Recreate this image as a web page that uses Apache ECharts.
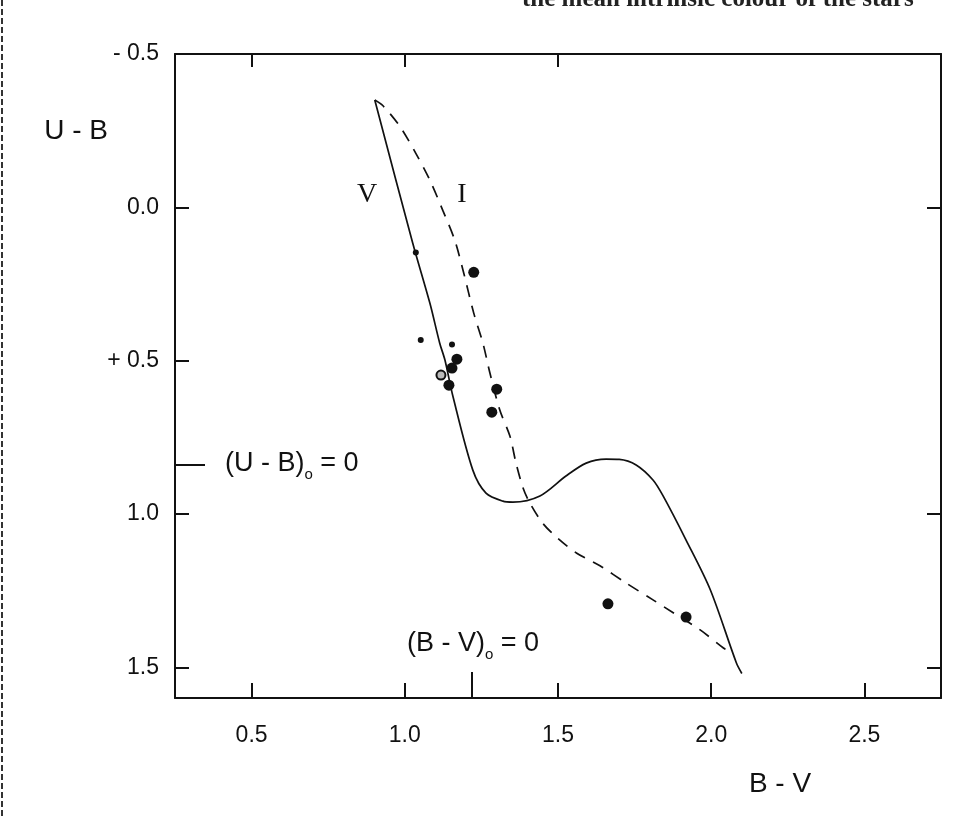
<html lang="en">
	<head>
		<meta charset="utf-8" />
		<title>U-B / B-V two-colour diagram</title>
		<style>
			html,
			body {
				margin: 0;
				padding: 0;
				background: #fff;
			}
		</style>
	</head>

	<body>
		<div id="main" style="width: 975px;height:819px;"></div>
	</body>
	<script src="https://cdn.jsdelivr.net/npm/echarts@6/dist/echarts.min.js"></script>
	<script type="text/javascript">
		// axis ticks and labels
		const xTicks = [0.5, 1.0, 1.5, 2.0, 2.5];
		const xTickLabels = ['0.5', '1.0', '1.5', '2.0', '2.5'];
		const topTicks = [0.5, 1.0, 1.5];
		const yTicks = [0.0, 0.5, 1.0, 1.5];
		const yLabelValues = [-0.5, 0.0, 0.5, 1.0, 1.5];
		const yTickLabels = ['- 0.5', '0.0', '+ 0.5', '1.0', '1.5'];
		const rightTicks = [0.0, 1.0, 1.5];
		// intrinsic colour markers (U-B)o = 0 and (B-V)o = 0
		const ubZero = [0.84];
		const bvZero = [1.22];

		// curve V (solid)
		const curveV = [
			[0.902, -0.35], [1.026, 0.117], [1.082, 0.313], [1.114, 0.443], [1.131, 0.498],
			[1.157, 0.616], [1.222, 0.857], [1.265, 0.932], [1.32, 0.958], [1.353, 0.961],
			[1.441, 0.941], [1.526, 0.876], [1.592, 0.834], [1.657, 0.821], [1.70, 0.822],
			[1.755, 0.84], [1.81, 0.889], [1.843, 0.941], [1.918, 1.085], [1.997, 1.247],
			[2.082, 1.485], [2.10, 1.52],
		];
		// curve I (dashed)
		const curveI = [
			[0.902, -0.35], [0.928, -0.332], [0.984, -0.264], [1.036, -0.176], [1.082, -0.088],
			[1.124, 0.01], [1.163, 0.107], [1.19, 0.205], [1.225, 0.345], [1.255, 0.443],
			[1.278, 0.541], [1.31, 0.661], [1.343, 0.746], [1.363, 0.834], [1.386, 0.915],
			[1.408, 0.964], [1.45, 1.03], [1.50, 1.08], [1.56, 1.127], [1.637, 1.169],
			[1.722, 1.225], [1.81, 1.28], [1.876, 1.322], [1.964, 1.378], [2.04, 1.437],
			[2.06, 1.45],
		];
		// stars
		const bigDots = [
			[1.225, 0.212], [1.17, 0.495], [1.154, 0.524], [1.144, 0.58],
			[1.30, 0.593], [1.284, 0.668], [1.663, 1.293], [1.918, 1.336],
		];
		const smallDots = [
			[1.036, 0.147], [1.052, 0.433], [1.154, 0.447],
		];
		const openDots = [[1.118, 0.547]];

		function pick(values, labels, v) {
			for (let i = 0; i < values.length; i++) {
				if (Math.abs(values[i] - v) < 1e-6) return labels[i];
			}
			return '';
		}

		var myChart = echarts.init(document.getElementById('main'));
		const black = '#111';
		const labelFont = 'Liberation Sans';

		let option = {
			animation: false,
			backgroundColor: '#fff',
			grid: {
				left: 175,
				top: 54,
				width: 766,
				height: 644,
			},
			xAxis: [
				{
					type: 'value',
					position: 'bottom',
					min: 0.25,
					max: 2.75,
					axisLine: { show: true, onZero: false, lineStyle: { color: black, width: 2 } },
					axisTick: { show: true, inside: true, length: 15, customValues: xTicks, lineStyle: { color: black, width: 2 } },
					axisLabel: {
						customValues: xTicks,
						margin: 26,
						color: black,
						fontSize: 23,
						fontFamily: labelFont,
						formatter: function (v) {
							return pick(xTicks, xTickLabels, v);
						},
					},
					splitLine: { show: false },
				},
				{
					type: 'value',
					position: 'bottom',
					min: 0.25,
					max: 2.75,
					axisLine: { show: false, onZero: false },
					axisTick: { show: true, inside: true, length: 26, customValues: bvZero, lineStyle: { color: black, width: 2 } },
					axisLabel: { show: false },
					splitLine: { show: false },
				},
				{
					type: 'value',
					position: 'top',
					min: 0.25,
					max: 2.75,
					axisLine: { show: true, onZero: false, lineStyle: { color: black, width: 2 } },
					axisTick: { show: true, inside: true, length: 13, customValues: topTicks, lineStyle: { color: black, width: 2 } },
					axisLabel: { show: false },
					splitLine: { show: false },
				},
			],
			yAxis: [
				{
					type: 'value',
					position: 'left',
					inverse: true,
					min: -0.5,
					max: 1.6,
					axisLine: { show: true, onZero: false, lineStyle: { color: black, width: 2 } },
					axisTick: { show: true, inside: true, length: 14, customValues: yTicks, lineStyle: { color: black, width: 2 } },
					axisLabel: {
						customValues: yLabelValues,
						margin: 16,
						color: black,
						fontSize: 23,
						fontFamily: labelFont,
						formatter: function (v) {
							return pick(yLabelValues, yTickLabels, v);
						},
					},
					splitLine: { show: false },
				},
				{
					type: 'value',
					position: 'left',
					inverse: true,
					min: -0.5,
					max: 1.6,
					axisLine: { show: false, onZero: false },
					axisTick: { show: true, inside: true, length: 30, customValues: ubZero, lineStyle: { color: black, width: 2 } },
					axisLabel: { show: false },
					splitLine: { show: false },
				},
				{
					type: 'value',
					position: 'right',
					inverse: true,
					min: -0.5,
					max: 1.6,
					axisLine: { show: true, onZero: false, lineStyle: { color: black, width: 2 } },
					axisTick: { show: true, inside: true, length: 14, customValues: rightTicks, lineStyle: { color: black, width: 2 } },
					axisLabel: { show: false },
					splitLine: { show: false },
				},
			],
			series: [
				{
					name: 'V',
					type: 'line',
					data: curveV,
					smooth: 0.3,
					showSymbol: false,
					lineStyle: { color: black, width: 1.7 },
				},
				{
					name: 'I',
					type: 'line',
					data: curveI,
					smooth: 0.3,
					showSymbol: false,
					lineStyle: { color: black, width: 1.7, type: [12, 9] },
				},
				{
					type: 'scatter',
					data: bigDots,
					symbolSize: 11,
					itemStyle: { color: black, opacity: 1 },
				},
				{
					type: 'scatter',
					data: smallDots,
					symbolSize: 6,
					itemStyle: { color: black, opacity: 1 },
				},
				{
					type: 'scatter',
					data: openDots,
					symbolSize: 9,
					itemStyle: { color: '#bbb', borderColor: black, borderWidth: 2, opacity: 1 },
				},
			],
			graphic: [
				// scan edge on the left
				{
					type: 'line',
					shape: { x1: 2, y1: 0, x2: 2, y2: 819 },
					style: { stroke: '#333', lineWidth: 2, lineDash: [6, 3] },
				},
				// cut-off line of page text
				{
					type: 'text',
					x: 522,
					y: 12,
					style: {
						text: 'the mean intrinsic colour of the stars',
						font: 'bold 25px "Liberation Serif"',
						fill: '#222',
						textVerticalAlign: 'bottom',
					},
				},
				{
					type: 'text',
					x: 108,
					y: 131,
					style: {
						text: 'U - B',
						font: '28px "Liberation Sans"',
						fill: black,
						textAlign: 'right',
						textVerticalAlign: 'middle',
					},
				},
				{
					type: 'text',
					x: 780,
					y: 784,
					style: {
						text: 'B - V',
						font: '28px "Liberation Sans"',
						fill: black,
						textAlign: 'center',
						textVerticalAlign: 'middle',
					},
				},
				{
					type: 'text',
					x: 367,
					y: 195,
					style: {
						text: 'V',
						font: '28px "Liberation Serif"',
						fill: black,
						textAlign: 'center',
						textVerticalAlign: 'middle',
					},
				},
				{
					type: 'text',
					x: 462,
					y: 195,
					style: {
						text: 'I',
						font: '28px "Liberation Serif"',
						fill: black,
						textAlign: 'center',
						textVerticalAlign: 'middle',
					},
				},
				{
					type: 'text',
					x: 225,
					y: 464,
					style: {
						text: '{a|(U - B)}{s|o}{a| = 0}',
						fill: black,
						textVerticalAlign: 'middle',
						rich: {
							a: { fontSize: 27, fontFamily: 'Liberation Sans', lineHeight: 36, verticalAlign: 'middle' },
							s: { fontSize: 15, fontFamily: 'Liberation Sans', lineHeight: 14, verticalAlign: 'bottom' },
						},
					},
				},
				{
					type: 'text',
					x: 407,
					y: 644,
					style: {
						text: '{a|(B - V)}{s|o}{a| = 0}',
						fill: black,
						textVerticalAlign: 'middle',
						rich: {
							a: { fontSize: 27, fontFamily: 'Liberation Sans', lineHeight: 36, verticalAlign: 'middle' },
							s: { fontSize: 15, fontFamily: 'Liberation Sans', lineHeight: 14, verticalAlign: 'bottom' },
						},
					},
				},
			],
		};
		myChart.setOption(option);
	</script>
</html>
